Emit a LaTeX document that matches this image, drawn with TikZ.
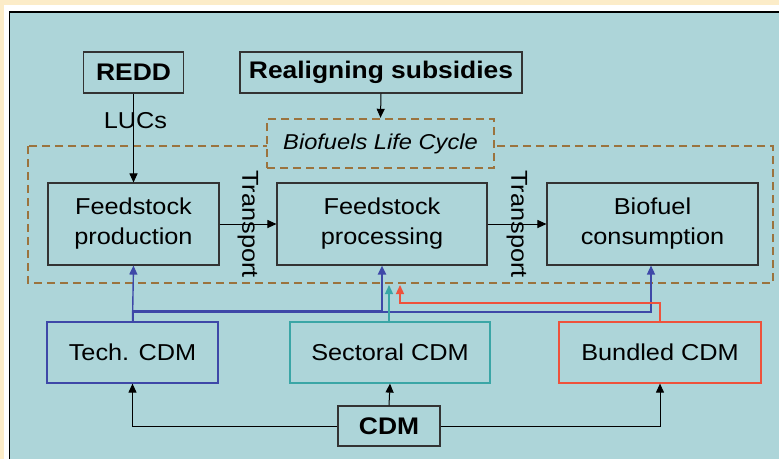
\documentclass[tikz,border=0pt]{standalone}
\usepackage{fontspec}
\setmainfont[FakeStretch=1.1]{Liberation Sans}
\usetikzlibrary{arrows.meta}
\definecolor{panel}{RGB}{173,213,217}
\definecolor{cream}{RGB}{252,236,200}
\definecolor{techblue}{RGB}{62,72,168}
\definecolor{secteal}{RGB}{58,166,166}
\definecolor{bundred}{RGB}{238,82,60}
\definecolor{lcbrown}{RGB}{155,115,62}
\begin{document}
\begin{tikzpicture}[x=1pt, y=-1pt, every node/.style={font=\fontsize{23}{30}\selectfont},
  blk/.style={draw=black!80,line width=1.1pt,minimum height=82pt,inner sep=0pt,align=center},
  cdmbox/.style={draw,line width=1.2pt,minimum height=61pt,inner sep=0pt},
  topbox/.style={draw=black!80,line width=1.1pt,minimum height=41pt,inner sep=0pt,font=\fontsize{24}{28}\selectfont\bfseries},
  lc/.style={draw=lcbrown,line width=2.4pt,dash pattern=on 8pt off 5pt},
  arr/.style={-{Triangle[length=9pt,width=8pt]},line width=1pt},
  route/.style={arr,line width=1.4pt}]
\useasboundingbox (0,0) rectangle (779,459);
% frame
\fill[cream] (0,0) rectangle (779,459);
\fill[white] (4,5) rectangle (779,459);
\fill[panel] (9.5,12) rectangle (779,459);
\draw[line width=1.3pt] (9.5,459) -- (9.5,12) -- (779,12);
% life cycle
\draw[lc] (28,146) rectangle (773,283);
\node[lc,fill=panel,minimum width=227pt,minimum height=49pt,inner sep=0pt,font=\fontsize{21.5}{26}\selectfont\itshape] (lcyc) at (380.5,143.5) {Biofuels Life Cycle};
\node[topbox,minimum width=100pt] (redd) at (133.5,72.5) {REDD};
\node[topbox,minimum width=282pt] (subs) at (381,72.5) {Realigning subsidies};
\node[blk,minimum width=171pt] (prod) at (133.5,224) {Feedstock\\production};
\node[blk,minimum width=210pt] (proc) at (382,224) {Feedstock\\processing};
\node[blk,minimum width=211pt] (cons) at (652.5,224) {Biofuel\\consumption};
\node[cdmbox,draw=techblue,minimum width=171pt] (tech) at (132.5,352.5) {Tech. CDM};
\node[cdmbox,draw=secteal,minimum width=200pt] (sect) at (390,352.5) {Sectoral CDM};
\node[cdmbox,draw=bundred,minimum width=202pt] (bund) at (660,352.5) {Bundled CDM};
\node[topbox,minimum width=102pt,minimum height=40pt] (cdm) at (389,426) {CDM};
\coordinate (sectend) at (389,285);
\coordinate (bundend) at (400,285);
% flows
\draw[arr] (redd.south) -- (prod.north) node[pos=0.3,xshift=2pt] {LUCs};
\draw[arr] (subs.south) -- (lcyc.north);
\draw[arr] (prod.east) -- (proc.west) node[midway,rotate=-90] {Transport};
\draw[arr] (proc.east) -- (cons.west) node[midway,rotate=-90] {Transport};
\draw[arr] (cdm.west) -| (tech.south);
\draw[arr] (cdm.north) -- (sect.south);
\draw[arr] (cdm.east) -| (bund.south);
% CDM routes
\draw[route,techblue] (tech.north) -- (prod.south);
\draw[route,techblue,line width=2pt] (tech.north) |- (382,310.5) -- (proc.south);
\draw[route,techblue] (tech.north) |- (651,312) -- (cons.south -| 651,0);
\draw[route,secteal] (sect.north -| sectend) -- (sectend);
\draw[route,bundred] (bund.north) |- (400,303) -- (bundend);
\end{tikzpicture}
\end{document}
